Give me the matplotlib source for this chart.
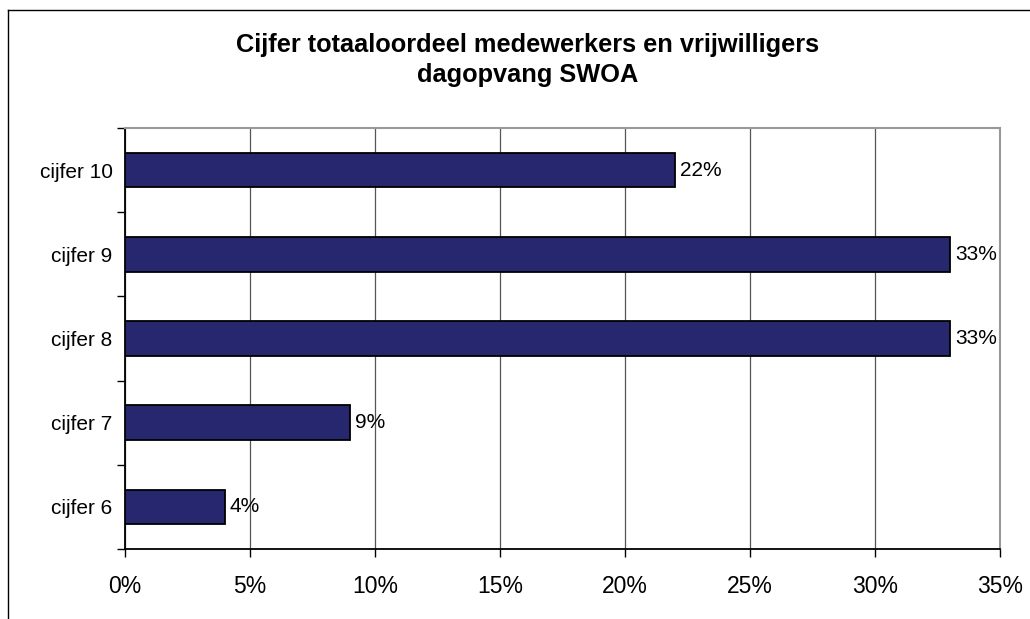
import matplotlib.pyplot as plt
from matplotlib.lines import Line2D
from matplotlib.ticker import FixedLocator

plt.rcParams['font.family'] = ['Liberation Sans', 'DejaVu Sans']

categories = ['cijfer 6', 'cijfer 7', 'cijfer 8', 'cijfer 9', 'cijfer 10']
values = [4, 9, 33, 33, 22]
xticks = [0, 5, 10, 15, 20, 25, 30, 35]

fig = plt.figure(figsize=(10.3, 6.19), dpi=100)
ax = fig.add_axes([125 / 1030, 1 - 549 / 619, 875 / 1030, 421 / 619])

pos = list(range(len(categories)))
ax.barh(pos, values, height=0.41, color='#27276F', edgecolor='black',
        linewidth=1.3, zorder=3)
for p, v in zip(pos, values):
    ax.text(v + 0.2, p, f'{v}%', va='center', ha='left', fontsize=15)

ax.set_xlim(0, 35)
ax.set_ylim(-0.5, len(categories) - 0.5)
ax.set_xticks(xticks)
ax.set_xticklabels([f'{t}%' for t in xticks], fontsize=16.5)
ax.set_yticks(pos)
ax.set_yticklabels(categories, fontsize=15)
ax.tick_params(axis='y', length=0, pad=9)
ax.yaxis.set_minor_locator(FixedLocator([p + 0.5 for p in [-1] + pos]))
ax.tick_params(axis='y', which='minor', length=6, width=1, direction='out')
ax.tick_params(axis='x', length=6, width=1, direction='out', pad=13)
ax.grid(axis='x', color='#555555', linewidth=0.9, zorder=0)

ax.spines['left'].set_color('black')
ax.spines['left'].set_linewidth(1.3)
ax.spines['bottom'].set_color('black')
ax.spines['bottom'].set_linewidth(1.3)
ax.spines['top'].set_color('#999999')
ax.spines['right'].set_color('#999999')
ax.spines['top'].set_linewidth(1.5)
ax.spines['right'].set_linewidth(1.5)

fig.text(528 / 1030, 1 - 45 / 619,
         'Cijfer totaaloordeel medewerkers en vrijwilligers',
         ha='center', va='center', fontsize=18.3, fontweight='bold')
fig.text(528 / 1030, 1 - 75 / 619, 'dagopvang SWOA',
         ha='center', va='center', fontsize=18.3, fontweight='bold')

# outer chart frame (cut off on the right and bottom)
fig.add_artist(Line2D([8 / 1030, 8 / 1030], [0, 1 - 10 / 619],
                      transform=fig.transFigure, color='black', linewidth=1))
fig.add_artist(Line2D([8 / 1030, 1], [1 - 10 / 619, 1 - 10 / 619],
                      transform=fig.transFigure, color='black', linewidth=1))

fig.savefig('out.png', dpi=100)
